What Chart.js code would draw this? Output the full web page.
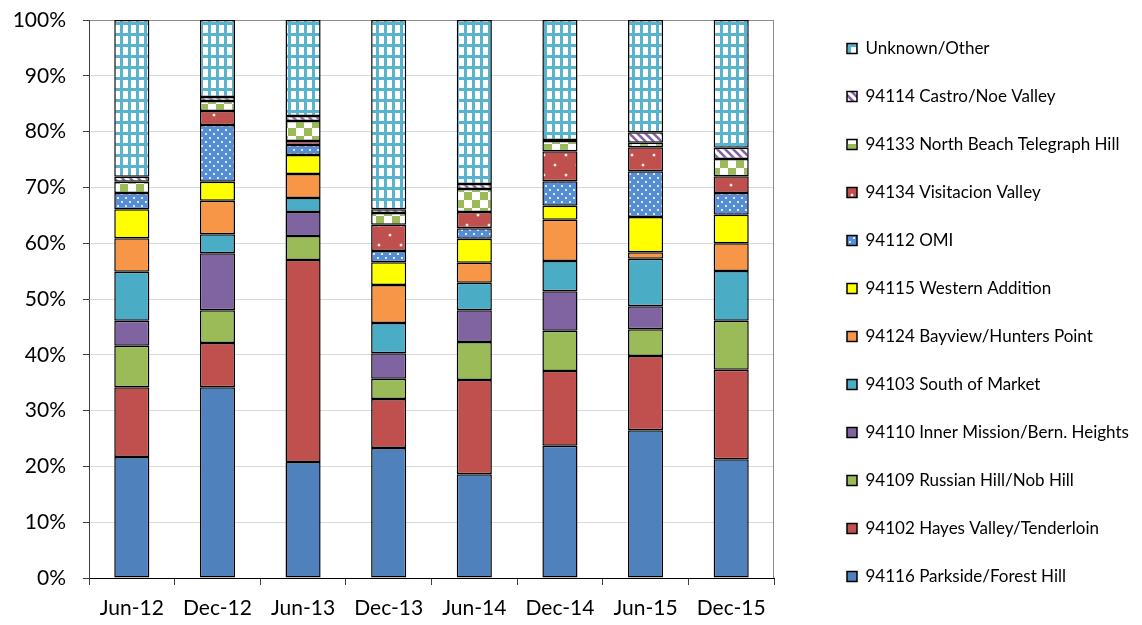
<!DOCTYPE html>
<html>
<head>
<meta charset="utf-8">
<script src="https://cdn.jsdelivr.net/npm/chart.js@4.4.1/dist/chart.umd.min.js"></script>
<style>
  html, body { margin: 0; padding: 0; background: #fff; }
  #wrap { width: 1142px; height: 625px; }
</style>
</head>
<body>
<div id="wrap"><canvas id="c" width="1142" height="625"></canvas></div>
<script>
// Share of clients by home zip code, per reporting period (percent of total)
const periods = ['Jun-12', 'Dec-12', 'Jun-13', 'Dec-13', 'Jun-14', 'Dec-14', 'Jun-15', 'Dec-15'];

const parkside        = [21.7, 34.2, 20.8, 23.3, 18.6, 23.7, 26.5, 21.3];
const hayesValley     = [12.5,  7.9, 36.2,  8.8, 16.9, 13.4, 13.3, 16.0];
const russianHill     = [ 7.4,  5.9,  4.3,  3.6,  6.8,  7.2,  4.8,  8.8];
const innerMission    = [ 4.5, 10.2,  4.3,  4.6,  5.7,  7.1,  4.1,  0.0];
const southOfMarket   = [ 8.8,  3.4,  2.5,  5.4,  4.9,  5.4,  8.5,  8.9];
const bayview         = [ 6.0,  6.0,  4.3,  6.8,  3.6,  7.4,  1.2,  5.0];
const westernAddition = [ 5.2,  3.4,  3.4,  4.1,  4.3,  2.5,  6.3,  5.1];
const omi             = [ 2.9, 10.2,  1.8,  2.0,  1.9,  4.4,  8.2,  3.9];
const visitacion      = [ 0.0,  2.5,  0.7,  4.7,  2.9,  5.4,  4.3,  3.0];
const northBeach      = [ 2.0,  1.8,  3.6,  2.1,  4.1,  1.8,  0.8,  3.1];
const castro          = [ 0.9,  0.7,  0.9,  0.7,  0.9,  0.2,  1.9,  2.0];
const unknownOther    = [28.1, 13.8, 17.2, 33.9, 29.4, 21.5, 20.1, 22.9];

const yTickStep = 10;

// ---- fill patterns -------------------------------------------------------
const mainCtx = document.getElementById('c').getContext('2d');
function makePattern(w, h, paint) {
  const tile = document.createElement('canvas');
  tile.width = w; tile.height = h;
  paint(tile.getContext('2d'), w, h);
  return mainCtx.createPattern(tile, 'repeat');
}
function dot(g, x, y, r) { g.beginPath(); g.arc(x, y, r, 0, Math.PI * 2); g.fill(); }

const dottedBlue = makePattern(8, 8, g => {
  g.fillStyle = '#558ED5'; g.fillRect(0, 0, 8, 8);
  g.fillStyle = '#ffffff'; dot(g, 2, 2, 1.1); dot(g, 6, 6, 1.1);
});
const dottedRed = makePattern(22, 20, g => {
  g.fillStyle = '#C0504D'; g.fillRect(0, 0, 22, 20);
  g.fillStyle = '#f3d6d5'; dot(g, 5, 5, 1.5); dot(g, 16, 15, 1.5);
  g.fillStyle = '#ffffff'; dot(g, 5, 5, 0.9); dot(g, 16, 15, 0.9);
});
const greenChecker = makePattern(16, 16, g => {
  g.fillStyle = '#ffffff'; g.fillRect(0, 0, 16, 16);
  g.fillStyle = '#9BBB59'; g.fillRect(0, 0, 8, 8); g.fillRect(8, 8, 8, 8);
});
const purpleStripes = makePattern(8, 8, g => {
  g.fillStyle = '#ffffff'; g.fillRect(0, 0, 8, 8);
  g.strokeStyle = '#8064A2'; g.lineWidth = 2.6;
  g.beginPath();
  for (const k of [-8, 0, 8]) { g.moveTo(k - 1, -1); g.lineTo(k + 9, 9); }
  g.stroke();
});
const tealGrid = makePattern(8, 11, g => {
  g.fillStyle = '#ffffff'; g.fillRect(0, 0, 8, 11);
  g.fillStyle = '#5AB3CC'; g.fillRect(0, 0, 3, 11); g.fillRect(0, 0, 8, 3);
});

// ---- series (bottom of stack first) ----------------------------------------
const series = [
  { name: '94116 Parkside/Forest Hill',        values: parkside,        fill: '#4F81BD' },
  { name: '94102 Hayes Valley/Tenderloin',     values: hayesValley,     fill: '#C0504D' },
  { name: '94109 Russian Hill/Nob Hill',       values: russianHill,     fill: '#9BBB59' },
  { name: '94110 Inner Mission/Bern. Heights', values: innerMission,    fill: '#8064A2' },
  { name: '94103 South of Market',             values: southOfMarket,   fill: '#4BACC6' },
  { name: '94124 Bayview/Hunters Point',       values: bayview,         fill: '#F79646' },
  { name: '94115 Western Addition',            values: westernAddition, fill: '#FFFF00' },
  { name: '94112 OMI',                         values: omi,             fill: dottedBlue },
  { name: '94134 Visitacion Valley',           values: visitacion,      fill: dottedRed },
  { name: '94133 North Beach Telegraph Hill',  values: northBeach,      fill: greenChecker },
  { name: '94114 Castro/Noe Valley',           values: castro,          fill: purpleStripes },
  { name: 'Unknown/Other',                     values: unknownOther,    fill: tealGrid }
];

// ---- layout helpers -------------------------------------------------------
const plotFrame = {
  id: 'plotFrame',
  beforeDatasetsDraw(chart) {
    const { ctx, chartArea: a } = chart;
    ctx.save();
    ctx.strokeStyle = '#8c8c8c';
    ctx.lineWidth = 1;
    ctx.beginPath();
    ctx.moveTo(Math.round(a.right) - 0.5, a.top);
    ctx.lineTo(Math.round(a.right) - 0.5, a.bottom);
    ctx.stroke();
    ctx.restore();
  }
};
const legendWidth = {
  id: 'legendWidth',
  afterInit(chart) {
    const lg = chart.legend;
    const baseFit = lg.fit;
    lg.fit = function () { baseFit.call(this); this.width = 326; };
  }
};

Chart.defaults.font.family = 'Lato, "Open Sans", sans-serif';
Chart.defaults.color = '#000';

new Chart(mainCtx, {
  type: 'bar',
  data: {
    labels: periods,
    datasets: series.map(s => ({
      label: s.name,
      data: s.values,
      backgroundColor: s.fill,
      borderColor: '#000',
      borderWidth: 1.5,
      borderSkipped: false,
      inflateAmount: 0,
      barPercentage: 0.41,
      categoryPercentage: 1
    }))
  },
  options: {
    responsive: false,
    devicePixelRatio: 1,
    animation: false,
    layout: { padding: 0 },
    plugins: {
      tooltip: { enabled: false },
      legend: {
        position: 'right',
        reverse: true,
        labels: {
          boxWidth: 10,
          boxHeight: 10,
          padding: 31,
          color: '#000',
          font: { size: 17 }
        }
      }
    },
    scales: {
      x: {
        stacked: true,
        grid: { display: true, drawOnChartArea: false, offset: true, tickLength: 7, tickColor: '#404040' },
        border: { color: '#000' },
        ticks: { color: '#000', font: { size: 21 }, padding: 11, maxRotation: 0, autoSkip: false },
        afterFit: s => { s.height = 47; }
      },
      y: {
        stacked: true,
        min: 0,
        max: 100,
        ticks: {
          stepSize: yTickStep,
          color: '#000',
          font: { size: 21 },
          padding: 17,
          callback: v => v + '%'
        },
        grid: {
          color: c => (c.tick && c.tick.value === 100 ? '#8c8c8c' : '#d9d9d9'),
          tickColor: '#404040',
          tickLength: 6
        },
        border: { color: '#404040' },
        afterFit: s => { s.width = 89; s.paddingTop = 20; }
      },
      gap: {
        type: 'linear',
        position: 'right',
        display: true,
        grid: { display: false },
        border: { display: false },
        ticks: { display: false },
        afterFit: s => { s.width = 42; }
      }
    }
  },
  plugins: [plotFrame, legendWidth]
});
</script>
</body>
</html>
